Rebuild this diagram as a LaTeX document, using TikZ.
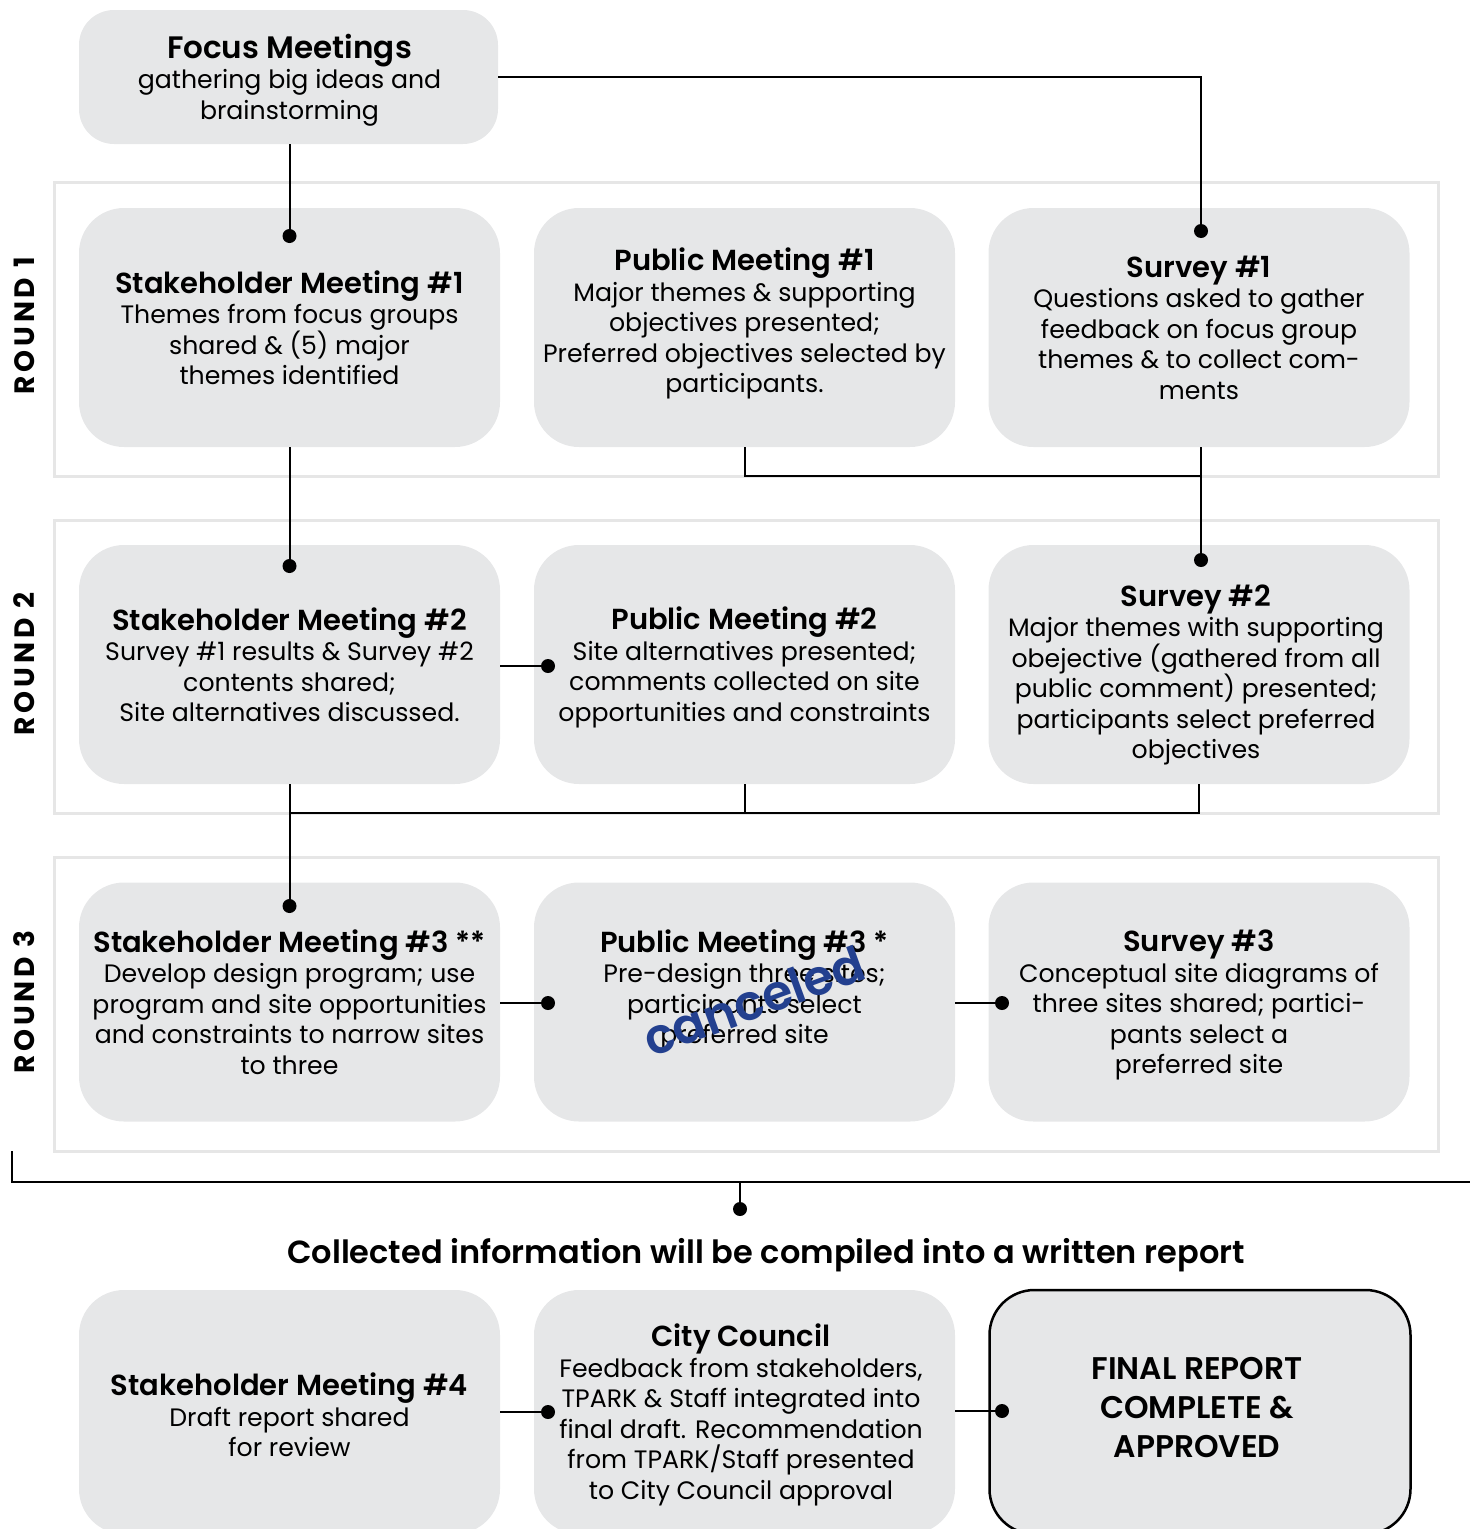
\documentclass[tikz,border=0pt]{standalone}
\usepackage{fontspec}
\IfFontExistsTF{Poppins SemiBold}{\setmainfont{Poppins}[BoldFont={Poppins SemiBold}]}{\setmainfont{Poppins}}
\newfontfamily\heavyfont{Poppins Bold}
\usetikzlibrary{calc}
\definecolor{boxgray}{HTML}{E6E7E8}
\definecolor{framegray}{HTML}{E6E6E6}
\definecolor{cancelblue}{RGB}{35,64,143}
\newcommand\ttl[1]{{\fontsize{29}{32}\selectfont\bfseries #1}}
\begin{document}
\begin{tikzpicture}[x=1pt,y=-1pt,
  box/.style={fill=boxgray, rounded corners=45pt, minimum width=421pt, minimum height=239pt,
    align=center, inner sep=0pt, font=\fontsize{25.2}{30.5}\selectfont},
  boxtext/.style={align=center, inner sep=0pt, font=\fontsize{25.2}{30.5}\selectfont},
  dot/.style={circle, fill=black, inner sep=0pt, minimum size=14pt},
  conn/.style={line width=2pt, black},
  frame/.style={draw=framegray, line width=3pt},
  roundlbl/.style={rotate=90, font=\fontsize{28}{30}\selectfont\heavyfont\addfontfeatures{LetterSpace=14}}]
\useasboundingbox (0,0) rectangle (1470,1529);
% frames
\draw[frame] (54,182) rectangle (1438,476);
\draw[frame] (54,520) rectangle (1438,813);
\draw[frame] (54,857) rectangle (1438,1151);
% round labels
\node[roundlbl] (r1) at (24,326) {ROUND 1};
\node[roundlbl] (r2) at (24,664) {ROUND 2};
\node[roundlbl] (r3) at (24,1002) {ROUND 3};
% boxes
\node[box, minimum width=419pt, minimum height=134pt, rounded corners=35pt] (focus) at (288.5,77) {};
\node[boxtext] (focust) at (289.5,80)
  {{\fontsize{31}{34}\selectfont\bfseries Focus Meetings}\\gathering big ideas and\\brainstorming};
\node[box] (s1) at (289.5,327.5) {\ttl{Stakeholder Meeting \#1}\\Themes from focus groups\\shared \& (5) major\\themes identified};
\node[box] (p1) at (744.5,327.5) {};
\node[boxtext] (p1t) at (744.5,323.5) {\ttl{Public Meeting \#1}\\Major themes \& supporting\\objectives presented;\\Preferred objectives selected by\\participants.};
\node[box] (sv1) at (1199,327.5) {\ttl{Survey \#1}\\Questions asked to gather\\feedback on focus group\\themes \& to collect com-\\ments};
\node[box] (s2) at (289.5,664.5) {\ttl{Stakeholder Meeting \#2}\\Survey \#1 results \& Survey \#2\\contents shared;\\Site alternatives discussed.};
\node[box] (p2) at (744.5,664.5) {};
\node[boxtext] (p2t) at (744.5,667.5) {\ttl{Public Meeting \#2}\\Site alternatives presented;\\comments collected on site\\opportunities and constraints};
\node[box] (sv2) at (1199,664.5) {};
\node[boxtext] (sv2t) at (1196,675) {\ttl{Survey \#2}\\Major themes with supporting\\obejective (gathered from all\\public comment) presented;\\participants select preferred\\objectives};
\node[box] (s3) at (289.5,1002) {\ttl{Stakeholder Meeting \#3 **}\\Develop design program; use\\program and site opportunities\\and constraints to narrow sites\\to three};
\node[box] (p3) at (744.5,1002) {};
\node[boxtext] (p3t) at (744.5,990) {\ttl{Public Meeting \#3 *}\\Pre-design three sites;\\participants select\\preferred site};
\node[box] (sv3) at (1199,1002) {};
\node[boxtext] (sv3t) at (1199,1005) {\ttl{Survey \#3}\\Conceptual site diagrams of\\three sites shared; partici-\\pants select a\\preferred site};
\node[rotate=20, text=cancelblue, font=\fontsize{49}{50}\selectfont\bfseries] (cancel) at (754,1001) {canceled};
\node[font=\fontsize{32}{34}\selectfont\bfseries] (collected) at (766,1255) {Collected information will be compiled into a written report};
\node[box, minimum height=244pt] (s4) at (289.5,1412) {};
\node[boxtext] (s4t) at (289.5,1415) {\ttl{Stakeholder Meeting \#4}\\Draft report shared\\for review};
\node[box, minimum height=244pt] (cc) at (744.5,1412) {};
\node[boxtext] (cct) at (741,1415) {\ttl{City Council}\\Feedback from stakeholders,\\TPARK \& Staff integrated into\\final draft. Recommendation\\from TPARK/Staff presented\\to City Council approval};
\node[box, minimum height=244pt, draw=black, line width=2.5pt] (final) at (1200,1412) {};
\node[boxtext, font=\fontsize{31.3}{39}\selectfont\bfseries] (finalt) at (1197,1408) {FINAL REPORT\\COMPLETE \&\\APPROVED};
% dots
\node[dot] (d1) at (289.5,236) {};
\node[dot] (d2) at (1201,231) {};
\node[dot] (d3) at (289.5,566) {};
\node[dot] (d4) at (1201,560) {};
\node[dot] (d5) at (548,666) {};
\node[dot] (d6) at (289.5,906) {};
\node[dot] (d7) at (548,1003) {};
\node[dot] (d8) at (1002,1003) {};
\node[dot] (d9) at (740,1209) {};
\node[dot] (d10) at (548,1412) {};
\node[dot] (d11) at (1002,1411) {};
% junction coordinates
\coordinate (j1) at (1201,476);
\coordinate (j2) at (289.5,813);
\coordinate (b0) at (12,1151);
\coordinate (b1) at (1470,1182);
\coordinate (b2) at (740,1182);
% connectors
\draw[conn] (focus.south -| d1) -- (d1.center);
\draw[conn] (focus.east) -| (d2.center);
\draw[conn] (s1.south) -- (d3.center);
\draw[conn] (p1.south) |- (j1);
\draw[conn] (sv1.south -| j1) -- (d4.center);
\draw[conn] (s2.east |- d5) -- (d5.center);
\draw[conn] (p2.south) |- (j2);
\draw[conn] (sv2.south) |- (j2);
\draw[conn] (s2.south) -- (d6.center);
\draw[conn] (s3.east |- d7) -- (d7.center);
\draw[conn] (p3.east |- d8) -- (d8.center);
\draw[conn] (b0) |- (b1);
\draw[conn] (b2) -- (d9.center);
\draw[conn] (s4.east |- d10) -- (d10.center);
\draw[conn] (cc.east |- d11) -- (d11.center);
\end{tikzpicture}
\end{document}
